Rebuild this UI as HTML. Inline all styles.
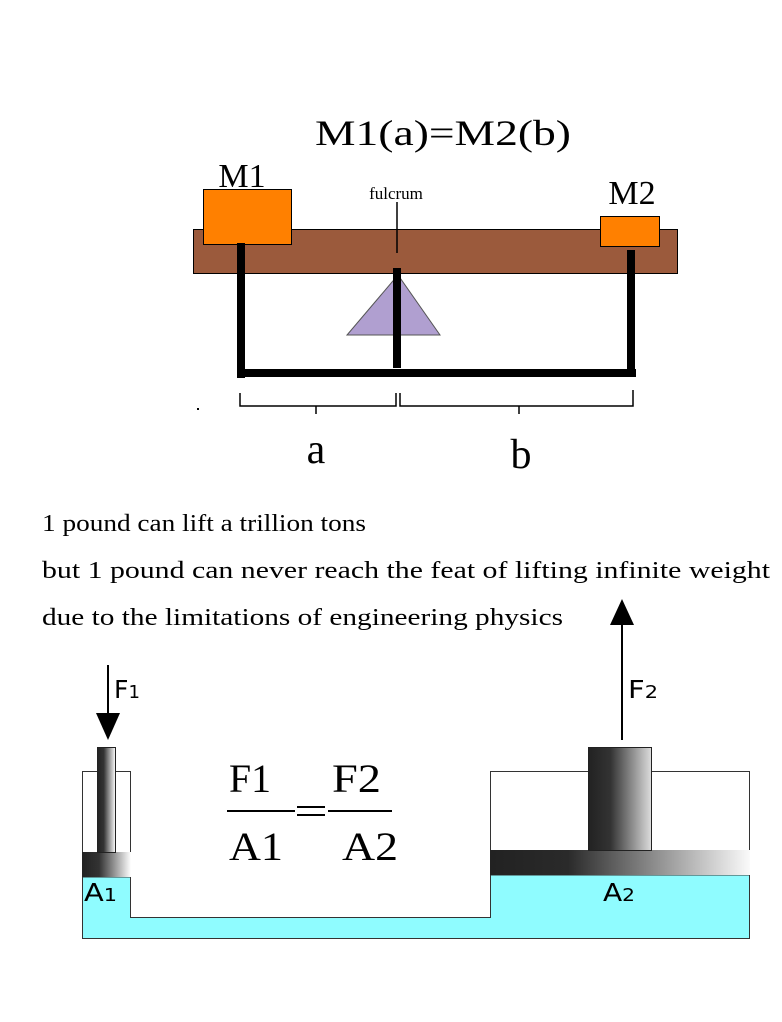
<!DOCTYPE html>
<html><head><meta charset="utf-8"><style>
body{margin:0;background:#fff}
svg{display:block}
text{font-family:"Liberation Serif",serif}
</style></head><body>
<svg width="782" height="1022" viewBox="0 0 782 1022" xmlns="http://www.w3.org/2000/svg">
<defs>
<linearGradient id="g" x1="0" x2="1" y1="0" y2="0"><stop offset="0" stop-color="#222"/><stop offset="0.35" stop-color="#333"/><stop offset="1" stop-color="#fff"/></linearGradient>
<linearGradient id="g3" x1="0" x2="1" y1="0" y2="0"><stop offset="0" stop-color="#222"/><stop offset="0.35" stop-color="#333"/><stop offset="1" stop-color="#ddd"/></linearGradient>
<linearGradient id="g2" x1="0" x2="1" y1="0" y2="0"><stop offset="0" stop-color="#222"/><stop offset="0.3" stop-color="#2a2a2a"/><stop offset="1" stop-color="#fafafa"/></linearGradient>
</defs>
<text x="443" y="145" font-size="36" text-anchor="middle" textLength="256" lengthAdjust="spacingAndGlyphs">M1(a)=M2(b)</text>
<rect x="193.5" y="229.5" width="484" height="44" fill="#9b5a3c" stroke="#000"/>
<rect x="203.5" y="189.5" width="88" height="55" fill="#ff8000" stroke="#000"/>
<rect x="600.5" y="216.5" width="59" height="30" fill="#ff8000" stroke="#000"/>
<text x="242" y="187" font-size="34" text-anchor="middle">M1</text>
<text x="632" y="204" font-size="34" text-anchor="middle">M2</text>
<text x="396" y="199" font-size="17" text-anchor="middle">fulcrum</text>
<line x1="397" y1="202" x2="397" y2="253" stroke="#000" stroke-width="1.5"/>
<polygon points="398,275 347,335 440,335" fill="#b09fd0" stroke="#555"/>
<g stroke="#000" stroke-width="8" fill="none">
<path d="M241,243 V378"/><path d="M237,373 H636"/><path d="M631,250 V377"/><path d="M397,268 V368"/>
</g>
<g stroke="#000" stroke-width="1.5" fill="none">
<path d="M240,393 V406 H396 V393"/><path d="M316,406 V414"/>
<path d="M400,393 V406 H633 V390"/><path d="M519,406 V414"/>
</g>
<rect x="197" y="408" width="2" height="2" fill="#000"/>
<text x="316" y="463" font-size="42" text-anchor="middle">a</text>
<text x="521" y="468" font-size="42" text-anchor="middle">b</text>
<text x="42" y="531" font-size="24" textLength="324" lengthAdjust="spacingAndGlyphs">1 pound can lift a trillion tons</text>
<text x="42" y="578" font-size="24" textLength="728" lengthAdjust="spacingAndGlyphs">but 1 pound can never reach the feat of lifting infinite weight</text>
<text x="42" y="625" font-size="24" textLength="521" lengthAdjust="spacingAndGlyphs">due to the limitations of engineering physics</text>
<rect x="82.5" y="771.5" width="48" height="106" fill="#fff" stroke="#333"/>
<rect x="490.5" y="771.5" width="259" height="104" fill="#fff" stroke="#333"/>
<path d="M82.5,877 V938.5 H749.5 V875 H490.5 V917.5 H130.5 V877 Z" fill="#8ffcff" stroke="#333"/>
<rect x="82" y="852" width="49" height="25" fill="url(#g)"/>
<rect x="97.5" y="747.5" width="18" height="105" fill="url(#g)" stroke="#222"/>
<rect x="490" y="850" width="260" height="25" fill="url(#g2)"/>
<rect x="588.5" y="747.5" width="63" height="103" fill="url(#g3)" stroke="#222"/>
<line x1="108" y1="665" x2="108" y2="720" stroke="#000" stroke-width="2"/>
<polygon points="96,713 120,713 108,740" fill="#000"/>
<line x1="622" y1="618" x2="622" y2="740" stroke="#000" stroke-width="2"/>
<polygon points="610,625 634,625 622,599" fill="#000"/>
<text x="114" y="698" font-size="25" style="font-family:'DejaVu Sans',sans-serif" textLength="26" lengthAdjust="spacingAndGlyphs">F<tspan font-size="18">1</tspan></text>
<text x="628" y="698" font-size="25" style="font-family:'DejaVu Sans',sans-serif" textLength="30" lengthAdjust="spacingAndGlyphs">F<tspan font-size="18">2</tspan></text>
<text x="84" y="901" font-size="25" style="font-family:'DejaVu Sans',sans-serif" textLength="33" lengthAdjust="spacingAndGlyphs">A<tspan font-size="18">1</tspan></text>
<text x="603" y="901" font-size="25" style="font-family:'DejaVu Sans',sans-serif" textLength="32" lengthAdjust="spacingAndGlyphs">A<tspan font-size="18">2</tspan></text>
<text x="229" y="792" font-size="40" textLength="42" lengthAdjust="spacingAndGlyphs">F1</text>
<text x="332" y="792" font-size="40" textLength="49" lengthAdjust="spacingAndGlyphs">F2</text>
<text x="229" y="860" font-size="40" textLength="54" lengthAdjust="spacingAndGlyphs">A1</text>
<text x="342" y="860" font-size="40" textLength="56" lengthAdjust="spacingAndGlyphs">A2</text>
<g stroke="#000" stroke-width="2"><path d="M227,811 H295"/><path d="M328,811 H392"/><path d="M297,807 H325"/><path d="M297,815 H325"/></g>
</svg>
</body></html>
